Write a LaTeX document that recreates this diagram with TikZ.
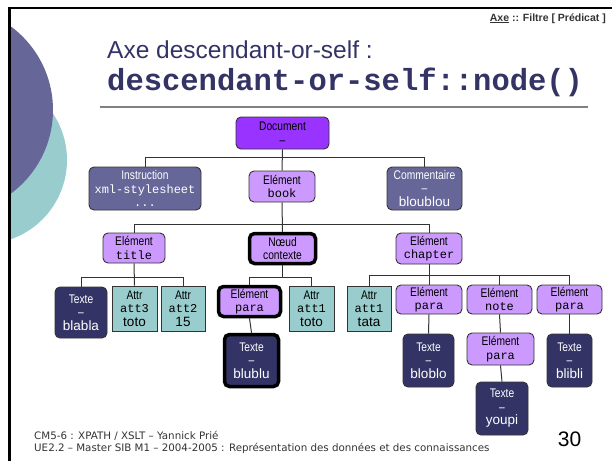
\documentclass[tikz,border=0pt]{standalone}
\usepackage{fontspec}
\setmainfont{Liberation Sans}
\newfontfamily\nf[FakeStretch=0.82]{Liberation Sans}
\newfontfamily\monof{Liberation Mono}
\newfontfamily\footf{DejaVu Sans}
\definecolor{docc}{HTML}{9933FF}
\definecolor{elemc}{HTML}{CC99FF}
\definecolor{attrc}{HTML}{99CCCC}
\definecolor{txtc}{HTML}{333366}
\definecolor{instc}{HTML}{666699}
\definecolor{bordc}{HTML}{333333}
\definecolor{titlec}{HTML}{333366}
\newcommand\mo[1]{{\monof\fontsize{12}{13.5}\selectfont #1}}
\newcommand\va[1]{{\rmfamily\fontsize{13.5}{13.5}\selectfont #1}}
\tikzset{
  box/.style={draw=bordc, line width=0.9pt, rounded corners=5pt, align=center, inner sep=0pt,
    font=\nf\fontsize{12.5}{13.5}\selectfont},
  elem/.style={box, fill=elemc},
  attr/.style={box, fill=attrc, rounded corners=0pt},
  txt/.style={box, fill=txtc, text=white},
  inst/.style={box, fill=instc, text=white},
  docs/.style={box, fill=docc},
  ctxs/.style={draw=black, line width=3.5pt},
  conn/.style={draw=bordc, line width=1pt}
}
\begin{document}
\begin{tikzpicture}[x=1pt,y=-1pt]
\useasboundingbox (0,0) rectangle (612,461);
% decoration
\begin{scope}
\clip (9.5,0) rectangle (200,461);
\fill[attrc] (-17,160) circle (84pt);
\fill[instc] (-51,110) circle (104pt);
\end{scope}
\draw[line width=2.5pt] (9.5,461) -- (9.5,8) -- (612,8);
% header
\node[anchor=base east, font=\bfseries\fontsize{10.5}{12}\selectfont, text=bordc, inner sep=0pt] (hdr) at (606,21) {\underline{Axe} :: Filtre [ Prédicat ]};
% title
\node[anchor=base west, inner sep=0pt, text=titlec, font=\fontsize{24.5}{28}\selectfont] (t1) at (107,58) {Axe descendant-or-self :};
\node[anchor=base west, inner sep=0pt, text=titlec, font=\monof\bfseries\fontsize{30.5}{32}\selectfont] (t2) at (107,90) {descendant-or-self::node()};
\draw[draw=gray, line width=1.5pt] (100,107) -- (588,107);
% nodes
\node[docs, minimum width=93, minimum height=32] (doc) at (282.5,133) {Document\\–};
\node[inst, minimum width=112, minimum height=43] (instr) at (145,188.5) {Instruction\\\mo{xml-stylesheet}\\\mo{...}};
\node[elem, minimum width=66, minimum height=31] (book) at (282,186.5) {Elément\\\mo{book}};
\node[inst, minimum width=75, minimum height=43] (comm) at (424.5,188.5) {Commentaire\\–\\\va{bloublou}};
\node[elem, minimum width=62, minimum height=30] (title) at (134,248) {Elément\\\mo{title}};
\node[elem, ctxs, minimum width=66, minimum height=30] (ctx) at (282.5,248.5) {Nœud\\contexte};
\node[elem, minimum width=66, minimum height=31] (chap) at (429,248.5) {Elément\\\mo{chapter}};
\node[txt, minimum width=52, minimum height=51] (blabla) at (81,312.5) {Texte\\–\\\va{blabla}};
\node[attr, minimum width=45, minimum height=45] (att3) at (134.5,308.5) {Attr\\\mo{att3}\\\va{toto}};
\node[attr, minimum width=44, minimum height=45] (att2) at (183,308.5) {Attr\\\mo{att2}\\\va{15}};
\node[elem, ctxs, minimum width=62, minimum height=30] (para1) at (249.5,301.5) {Elément\\\mo{para}};
\node[attr, minimum width=45, minimum height=45] (att1a) at (311.5,308.5) {Attr\\\mo{att1}\\\va{toto}};
\node[txt, ctxs, minimum width=54, minimum height=52] (blublu) at (251.5,360.5) {Texte\\–\\\va{blublu}};
\node[attr, minimum width=44, minimum height=45] (att1b) at (369,308.5) {Attr\\\mo{att1}\\\va{tata}};
\node[elem, minimum width=66, minimum height=29] (para2) at (429,299.5) {Elément\\\mo{para}};
\node[elem, minimum width=65, minimum height=29] (note) at (499.5,299.5) {Elément\\\mo{note}};
\node[elem, minimum width=65, minimum height=29] (para3) at (569.5,299.5) {Elément\\\mo{para}};
\node[txt, minimum width=51, minimum height=53] (bloblo) at (428.5,360.5) {Texte\\–\\\va{bloblo}};
\node[elem, minimum width=67, minimum height=32] (para4) at (500.5,349) {Elément\\\mo{para}};
\node[txt, minimum width=52, minimum height=53] (youpi) at (502,408.5) {Texte\\–\\\va{youpi}};
\node[txt, minimum width=45, minimum height=53] (blibli) at (569.5,360.5) {Texte\\–\\\va{blibli}};
% bar coordinates
\coordinate (b1) at (0,157);
\coordinate (b2) at (0,224);
\coordinate (b3) at (0,277);
\coordinate (b4) at (0,275);
% connectors
\path[conn] (doc.south) -- (book.north);
\path[conn] (instr.north) -- (instr.north |- b1) -- (comm.north |- b1) -- (comm.north);
\path[conn] (book.south) -- (ctx.north);
\path[conn] (title.north) -- (title.north |- b2) -- (chap.north |- b2) -- (chap.north);
\path[conn] (title.south) -- (att3.north);
\path[conn] (blabla.north) -- (blabla.north |- b3) -- (att2.north |- b3) -- (att2.north);
\path[conn] (ctx.south) -- (ctx.south |- b3);
\path[conn] (para1.north) -- (para1.north |- b3) -- (att1a.north |- b3) -- (att1a.north);
\path[conn] (para1.south) -- (blublu.north);
\path[conn] (chap.south) -- (para2.north);
\path[conn] (att1b.north) -- (att1b.north |- b4) -- (para3.north |- b4) -- (para3.north);
\path[conn] (note.north) -- (note.north |- b4);
\path[conn] (para2.south) -- (bloblo.north);
\path[conn] (note.south) -- (para4.north);
\path[conn] (para4.south) -- (youpi.north);
\path[conn] (para3.south) -- (blibli.north);
% footer
\node[anchor=base west, inner sep=0pt, text=bordc, font=\footf\fontsize{10.3}{12}\selectfont] (f1) at (34,439) {CM5-6 : XPATH / XSLT – Yannick Prié};
\node[anchor=base west, inner sep=0pt, text=bordc, font=\footf\fontsize{10.3}{12}\selectfont] (f2) at (34,451) {UE2.2 – Master SIB M1 – 2004-2005 : Représentation des données et des connaissances};
\node[anchor=base, inner sep=0pt, text=black, font=\fontsize{21}{24}\selectfont] (pg) at (569.5,446) {30};
\end{tikzpicture}
\end{document}
